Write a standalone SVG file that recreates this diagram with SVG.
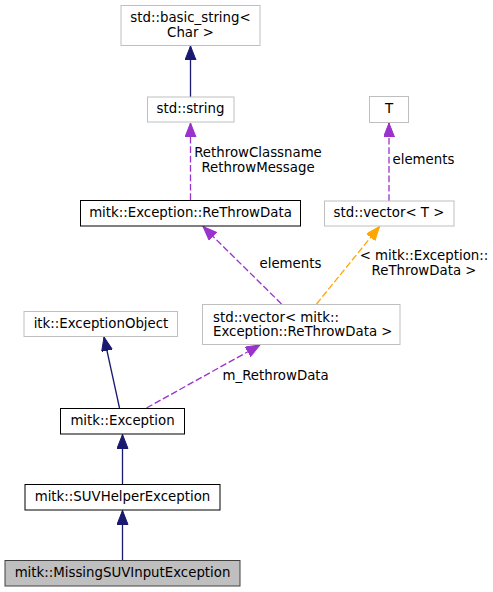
<svg xmlns="http://www.w3.org/2000/svg" width="493" height="592" viewBox="0 0 493 592">
<style>
text{font-family:"DejaVu Sans","Liberation Sans",sans-serif;font-size:13.33px;fill:#000}
.c{text-anchor:middle}
.n{fill:#fff;stroke:#bfbfbf;stroke-width:1}
.d{fill:#fff;stroke:#000;stroke-width:1}
.cur{fill:#bfbfbf;stroke:#404040;stroke-width:1}
.inh{stroke:#191970;stroke-width:1.3;fill:none}
.use{stroke:#9a32cd;stroke-width:1.3;fill:none;stroke-dasharray:6.7,2.7}
.tpl{stroke:#ffa500;stroke-width:1.3;fill:none;stroke-dasharray:6.7,2.7}
</style>
<defs>
<marker id="ab" markerUnits="userSpaceOnUse" markerWidth="15" markerHeight="12" refX="14" refY="5.5" orient="auto"><path d="M0,0 L14,5.5 L0,11 z" fill="#191970" stroke="#191970"/></marker>
<marker id="ap" markerUnits="userSpaceOnUse" markerWidth="15" markerHeight="12" refX="14" refY="5.5" orient="auto"><path d="M0,0 L14,5.5 L0,11 z" fill="#9a32cd" stroke="#9a32cd"/></marker>
<marker id="ao" markerUnits="userSpaceOnUse" markerWidth="15" markerHeight="12" refX="14" refY="5.5" orient="auto"><path d="M0,0 L14,5.5 L0,11 z" fill="#ffa500" stroke="#ffa500"/></marker>
</defs>
<g id="edges">
<path class="inh" d="M190.5,97 L190.5,46" marker-end="url(#ab)"/>
<path class="use" d="M190.5,200 L190.5,123" marker-end="url(#ap)"/>
<path class="use" d="M389,201 L389,123" marker-end="url(#ap)"/>
<path class="use" d="M281.5,304 L203,226.5" marker-end="url(#ap)"/>
<path class="tpl" d="M316.5,304 L379.5,226.5" marker-end="url(#ao)"/>
<path class="use" d="M146.5,408 L260,345" marker-end="url(#ap)"/>
<path class="inh" d="M119.5,408 L104,337" marker-end="url(#ab)"/>
<path class="inh" d="M122.5,484 L122.5,434.5" marker-end="url(#ab)"/>
<path class="inh" d="M122.5,560 L122.5,510.5" marker-end="url(#ab)"/>
<text class="c" x="258" y="157">RethrowClassname</text>
<text class="c" x="258" y="172">RethrowMessage</text>
<text x="392.5" y="164">elements</text>
<text x="259.5" y="268">elements</text>
<text class="c" x="424" y="260">&lt; mitk::Exception::</text>
<text class="c" x="424" y="275">ReThrowData &gt;</text>
<text x="222.5" y="380">m_RethrowData</text>
</g>
<g id="node_basic_string">
<rect class="n" x="121" y="5.5" width="139" height="40"/>
<text class="c" x="190.5" y="22">std::basic_string&lt;</text>
<text class="c" x="190.5" y="37">Char &gt;</text>
</g>
<g id="node_string">
<rect class="n" x="147.5" y="97" width="86.5" height="25"/>
<text class="c" x="190.5" y="113">std::string</text>
</g>
<g id="node_T">
<rect class="n" x="369.5" y="96.5" width="39" height="26"/>
<text class="c" x="389" y="113">T</text>
</g>
<g id="node_rethrowdata">
<rect class="d" x="80.5" y="200.5" width="220" height="25.5"/>
<text class="c" x="190.5" y="217">mitk::Exception::ReThrowData</text>
</g>
<g id="node_vector_T">
<rect class="n" x="324.5" y="201" width="129.5" height="25"/>
<text class="c" x="389" y="217">std::vector&lt; T &gt;</text>
</g>
<g id="node_vector_rethrowdata">
<rect class="n" x="202.5" y="304.5" width="197.5" height="40"/>
<text x="213" y="321.5">std::vector&lt; mitk::</text>
<text x="213" y="336">Exception::ReThrowData &gt;</text>
</g>
<g id="node_itk_exceptionobject">
<rect class="n" x="24" y="311.5" width="153.5" height="25"/>
<text class="c" x="101" y="328">itk::ExceptionObject</text>
</g>
<g id="node_exception">
<rect class="d" x="60.5" y="408.5" width="124" height="25.5"/>
<text class="c" x="122.5" y="425">mitk::Exception</text>
</g>
<g id="node_suvhelper">
<rect class="d" x="25" y="484.5" width="195" height="25.5"/>
<text class="c" x="122.5" y="501">mitk::SUVHelperException</text>
</g>
<g id="node_missing">
<rect class="cur" x="5" y="560.5" width="235" height="25.5"/>
<text class="c" x="122.5" y="577">mitk::MissingSUVInputException</text>
</g>
</svg>
